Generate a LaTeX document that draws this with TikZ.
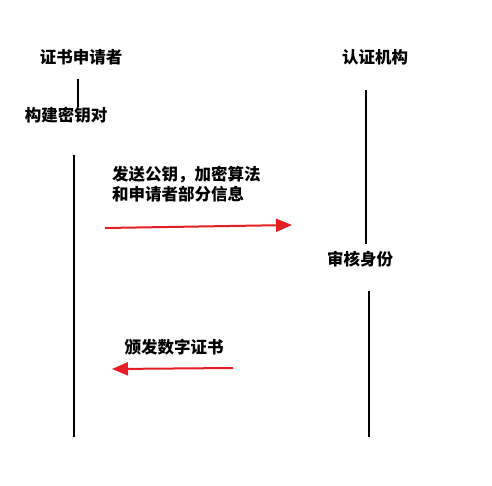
\documentclass[tikz,border=0pt]{standalone}
\usepackage{fontspec}
\newfontfamily\cjk{Noto Sans CJK SC}
\usetikzlibrary{arrows.meta}
\definecolor{arrred}{RGB}{228,30,36}
\tikzset{
  lbl/.style={font=\cjk\bfseries\fontsize{16.5}{20}\selectfont, inner sep=0pt, text=black},
  life/.style={draw=black, line width=1.9pt},
  msg/.style={draw=arrred, line width=2pt, -{Triangle[length=16pt,width=13pt]}}
}
\begin{document}
\begin{tikzpicture}[x=1pt,y=-1pt]
\useasboundingbox[fill=white] (0,0) rectangle (492,485);
\node[lbl] (app) at (81,57) {证书申请者};
\node[lbl] (ca) at (375,57) {认证机构};
\node[lbl] (gen) at (66,115) {构建密钥对};
\node[lbl] (chk) at (360,259) {审核身份};
\node[lbl, align=left, anchor=north west] (m1) at (112,166) {发送公钥，加密算法\\和申请者部分信息};
\node[lbl] (m2) at (174,347) {颁发数字证书};
\coordinate (l1a) at (78,79);
\coordinate (l1b) at (78,107);
\coordinate (l2a) at (74,155);
\coordinate (l2b) at (74,437);
\coordinate (r1a) at (366,90);
\coordinate (r1b) at (366,244);
\coordinate (r2a) at (369,291);
\coordinate (r2b) at (369,437);
\coordinate (a1s) at (105,228);
\coordinate (a1e) at (292,225);
\coordinate (a2s) at (233,368);
\coordinate (a2e) at (112,369);
\draw[life] (l1a) -- (l1b);
\draw[life] (l2a) -- (l2b);
\draw[life] (r1a) -- (r1b);
\draw[life] (r2a) -- (r2b);
\draw[msg] (a1s) -- (a1e);
\draw[msg] (a2s) -- (a2e);
\end{tikzpicture}
\end{document}
